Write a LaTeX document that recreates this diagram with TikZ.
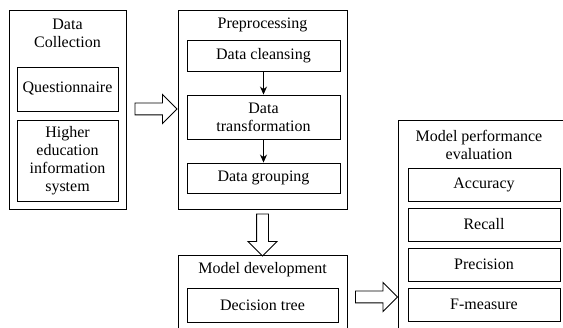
\documentclass[tikz,border=0pt]{standalone}
\usepackage{fontspec}
\setmainfont{Liberation Serif}
\usetikzlibrary{arrows.meta,positioning,calc,shapes.arrows}

\tikzset{
  stagebox/.style={draw,line width=.9pt,inner sep=0pt},
  stepbox/.style={draw,line width=.9pt,inner sep=0pt,align=center},
  stagetitle/.style={align=center,inner sep=0pt},
  bigarrow/.style={single arrow,draw,line width=.9pt,inner xsep=0pt,inner ysep=5.5pt,
    minimum height=42pt,single arrow head extend=8.5pt,
    single arrow head indent=0pt},
  thinarrow/.style={-{Stealth[length=8pt,width=7pt]},line width=.9pt}
}

\begin{document}
\begin{tikzpicture}[x=1pt,y=-1pt,font=\fontsize{16}{18}\selectfont]
\useasboundingbox (0,0) rectangle (563,328);

% data collection
\node[stagebox,minimum width=117,minimum height=199] (dcbox) at (67.5,109.5) {};
\node[stagetitle] (dctitle) at (67.5,33) {Data\\Collection};
\node[stepbox,minimum width=101,minimum height=44] (quest) at (67.5,89) {Questionnaire};
\node[stepbox,minimum width=101,minimum height=81] (heis) at (67.5,160.5) {Higher\\education\\information\\system};

% preprocessing
\node[stagebox,minimum width=169,minimum height=199] (ppbox) at (262.5,109.5) {};
\node[stagetitle] (pptitle) at (262.5,25) {Preprocessing};
\node[stepbox,minimum width=153,minimum height=31] (clean) at (263.5,55.5) {Data cleansing};
\node[stepbox,minimum width=153,minimum height=44] (trans) at (263.5,117) {Data\\transformation};
\node[stepbox,minimum width=153,minimum height=30] (group) at (263.5,178) {Data grouping};
\draw[thinarrow] (clean) -- (trans);
\draw[thinarrow] (trans) -- (group);

% model development
\node[stagebox,minimum width=169,minimum height=80,anchor=north] (mdbox) at (262.5,255) {};
\node[stagetitle] (mdtitle) at (262.5,270) {Model development};
\node[stepbox,minimum width=151,minimum height=34] (dtree) at (262.5,305) {Decision tree};

% model performance evaluation
\node[stagebox,minimum width=168,minimum height=215,anchor=north west] (mpbox) at (398,120) {};
\node[stagetitle] (mptitle) at (479,144.5) {Model performance\\evaluation};
\node[stepbox,minimum width=152,minimum height=33] (acc) at (484,184.5) {Accuracy};
\node[stepbox,minimum width=152,minimum height=33] (rec) at (484,224.5) {Recall};
\node[stepbox,minimum width=152,minimum height=33] (prec) at (484,264.5) {Precision};
\node[stepbox,minimum width=152,minimum height=33] (fmeas) at (484,304.5) {F-measure};

% block arrows between stages
\node[bigarrow] (arr1) at (153,109) {};
\node[bigarrow,rotate=-90] (arr2) at (262.5,232) {};
\node[bigarrow] (arr3) at (373.5,297) {};
\end{tikzpicture}
\end{document}
